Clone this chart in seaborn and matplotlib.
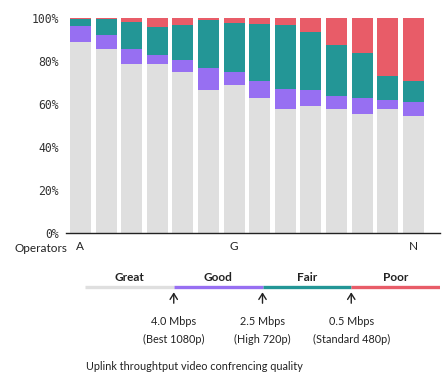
import matplotlib
matplotlib.use("Agg")
import matplotlib.pyplot as plt
import seaborn as sns
import numpy as np
import pandas as pd

# ---- data ----
operators = list("ABCDEFGHIJKLMN")
great = [88.6, 85.4, 78.4, 78.4, 74.7, 66.3, 68.6, 62.5, 57.4, 58.8, 57.4, 55.1, 57.4, 54.1]
good  = [7.5, 6.5, 7.0, 4.2, 5.5, 10.2, 6.1, 8.0, 9.3, 7.5, 6.1, 7.4, 4.2, 6.6]
fair  = [3.3, 7.5, 12.6, 13.0, 16.4, 22.4, 22.8, 26.5, 29.9, 27.0, 23.7, 21.0, 11.2, 9.8]
poor  = [0.6, 0.6, 2.0, 4.4, 3.4, 1.1, 2.5, 3.0, 3.4, 6.7, 12.8, 16.5, 27.2, 29.5]
shown_ticks = ["A", "G", "N"]
yticks = [0, 20, 40, 60, 80, 100]
categories = ["Great", "Good", "Fair", "Poor"]
colors = ["#DFDFDF", "#976FF2", "#239696", "#E85C68"]
thresholds = [4.0, 2.5, 0.5]
threshold_labels = ["4.0 Mbps\n(Best 1080p)", "2.5 Mbps\n(High 720p)", "0.5 Mbps\n(Standard 480p)"]

sns.set_theme(style="white")
plt.rcParams["font.family"] = ["Lato", "DejaVu Sans"]

fig = plt.figure(figsize=(4.42, 3.74), dpi=100)
ax = fig.add_axes([0.149, 0.378, 0.846, 0.575])

df = pd.DataFrame({"op": operators, "Great": great, "Good": good, "Fair": fair, "Poor": poor})
cum = np.cumsum(df[categories].values, axis=1)
# draw stacked by layering cumulative totals from top to bottom
for i in range(len(categories) - 1, -1, -1):
    d = pd.DataFrame({"op": operators, "val": cum[:, i]})
    sns.barplot(data=d, x="op", y="val", color=colors[i], width=0.82,
                saturation=1, ax=ax, linewidth=0)

ax.set_ylim(0, 100)
ax.set_xlim(-0.57, 14.03)
ax.set_yticks(yticks)
ax.set_yticklabels([f"{v}%" for v in yticks], family="DejaVu Sans Mono", fontsize=8.3, color="#333333")
ax.set_xticks([operators.index(t) for t in shown_ticks])
ax.set_xticklabels(shown_ticks, fontsize=8.5, color="#222222")
ax.tick_params(axis="both", length=0, pad=5)
ax.tick_params(axis="x", pad=6)
ax.set_xlabel("")
ax.set_ylabel("")
for s in ["left", "right", "top"]:
    ax.spines[s].set_visible(False)
ax.spines["bottom"].set_color("#222222")
ax.spines["bottom"].set_linewidth(1.0)
fig.text(15 / 442, 1 - 248 / 374, "Operators", fontsize=8.5, color="#222222", va="center", ha="left")

# ---- quality legend ----
lax = fig.add_axes([85 / 442, 0.0, (440 - 85) / 442, 1 - 270 / 374])
lax.set_xlim(0, 4)
lax.set_ylim(374 - 270, 0)  # pixel-like coordinates from y=270 downward
lax.axis("off")
line_y = 287 - 270
for i, (c, col) in enumerate(zip(categories, colors)):
    lax.plot([i, i + 1], [line_y, line_y], color=col, lw=2.4, solid_capstyle="butt")
    lax.text(i + 0.5, 277.7 - 270, c, ha="center", va="center", fontsize=8.5,
             fontweight="bold", color="#222222")
for i, lab in enumerate(threshold_labels):
    lax.annotate("", xy=(i + 1, 289.5 - 270), xytext=(i + 1, 306 - 270),
                 arrowprops=dict(arrowstyle="->,head_length=0.35,head_width=0.22",
                                 color="#222222", lw=1.0))
    lax.text(i + 1, 330.5 - 270, lab, ha="center", va="center", fontsize=7.8,
             color="#222222", linespacing=1.75)
fig.text(86 / 442, 1 - 366.7 / 374, "Uplink throughtput video confrencing quality",
         fontsize=7.8, color="#222222", va="center", ha="left")

fig.savefig("out.png", dpi=100)
